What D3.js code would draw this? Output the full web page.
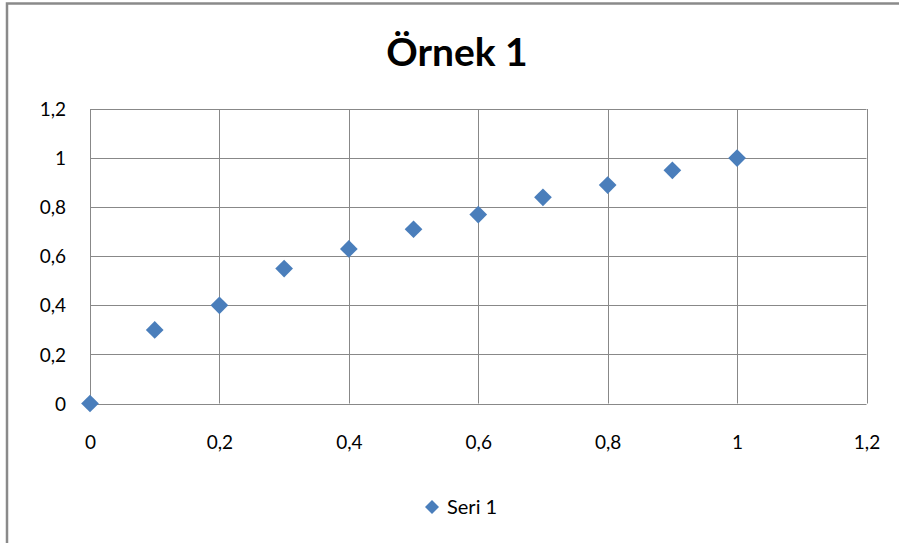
<!DOCTYPE html>
<html>
<head>
<meta charset="utf-8">
<script src="https://cdn.jsdelivr.net/npm/d3@7"></script>
<style>
  html, body { margin: 0; padding: 0; background: #fff; }
  svg { display: block; }
  text { font-family: Lato, "Open Sans", sans-serif; fill: #000; }
</style>
</head>
<body>
<svg id="chart" width="899" height="543"></svg>
<script>
// Series data
const seriesName = "Seri 1";
const xValues = [0, 0.1, 0.2, 0.3, 0.4, 0.5, 0.6, 0.7, 0.8, 0.9, 1];
const yValues = [0, 0.30, 0.40, 0.55, 0.63, 0.71, 0.77, 0.84, 0.89, 0.95, 1.00];
const xTicks = [0, 0.2, 0.4, 0.6, 0.8, 1, 1.2];
const yTicks = [0, 0.2, 0.4, 0.6, 0.8, 1, 1.2];
const chartTitle = "Örnek 1";

const svg = d3.select("#chart");
const W = 899, H = 543;
const plot = { left: 90, top: 109, right: 866.5, bottom: 403.5 };
const gridColor = "#888888";
const markerColor = "#4A7EBB";

// Outer chart frame (top and left edges visible)
svg.append("path")
  .attr("d", `M7,${H} L7,3.5 L${W},3.5`)
  .attr("fill", "none")
  .attr("stroke", "#8a8a8a")
  .attr("stroke-width", 2.5);

const x = d3.scaleLinear().domain([0, 1.2]).range([plot.left, plot.right]);
const y = d3.scaleLinear().domain([0, 1.2]).range([plot.bottom, plot.top]);

const fmt = v => d3.format("~g")(v).replace(".", ",");

// Gridlines
const grid = svg.append("g");
grid.selectAll("line.h").data(yTicks).join("line")
  .attr("x1", plot.left).attr("x2", plot.right)
  .attr("y1", d => Math.round(y(d)) + 0.5).attr("y2", d => Math.round(y(d)) + 0.5)
  .attr("stroke", gridColor).attr("stroke-width", 1);
grid.selectAll("line.v").data(xTicks).join("line")
  .attr("x1", d => Math.round(x(d)) + 0.5).attr("x2", d => Math.round(x(d)) + 0.5)
  .attr("y1", plot.top).attr("y2", plot.bottom)
  .attr("stroke", gridColor).attr("stroke-width", 1);

// Axes (labels only, lines come from the grid)
const yAxis = svg.append("g")
  .attr("transform", `translate(${plot.left - 24},0)`)
  .call(d3.axisLeft(y).tickValues(yTicks).tickFormat(fmt).tickSize(0).tickPadding(0));
yAxis.select(".domain").remove();
yAxis.selectAll("text").style("font-size", "19px").style("font-family", "Lato, sans-serif").attr("dy", "0.35em");

const xAxis = svg.append("g")
  .attr("transform", `translate(0,${plot.bottom + 32})`)
  .call(d3.axisBottom(x).tickValues(xTicks).tickFormat(fmt).tickSize(0).tickPadding(0));
xAxis.select(".domain").remove();
xAxis.selectAll("text").style("font-size", "19px").style("font-family", "Lato, sans-serif");

// Diamond markers
const diamond = d3.symbol().type(d3.symbolDiamond2).size(200);
const pts = d3.zip(xValues, yValues);
svg.append("g").selectAll("path").data(pts).join("path")
  .attr("d", diamond)
  .attr("transform", d => `translate(${x(d[0])},${y(d[1])})`)
  .attr("fill", markerColor);

// Title
svg.append("text")
  .attr("x", 457).attr("y", 66)
  .attr("text-anchor", "middle")
  .style("font-size", "39px").style("font-weight", "bold")
  .text(chartTitle);

// Legend
const legend = svg.append("g").attr("transform", "translate(432,507)");
legend.append("path").attr("d", d3.symbol().type(d3.symbolDiamond2).size(125)).attr("fill", markerColor);
legend.append("text").attr("x", 15).attr("dy", "0.35em")
  .style("font-size", "20px").text(seriesName);
</script>
</body>
</html>
